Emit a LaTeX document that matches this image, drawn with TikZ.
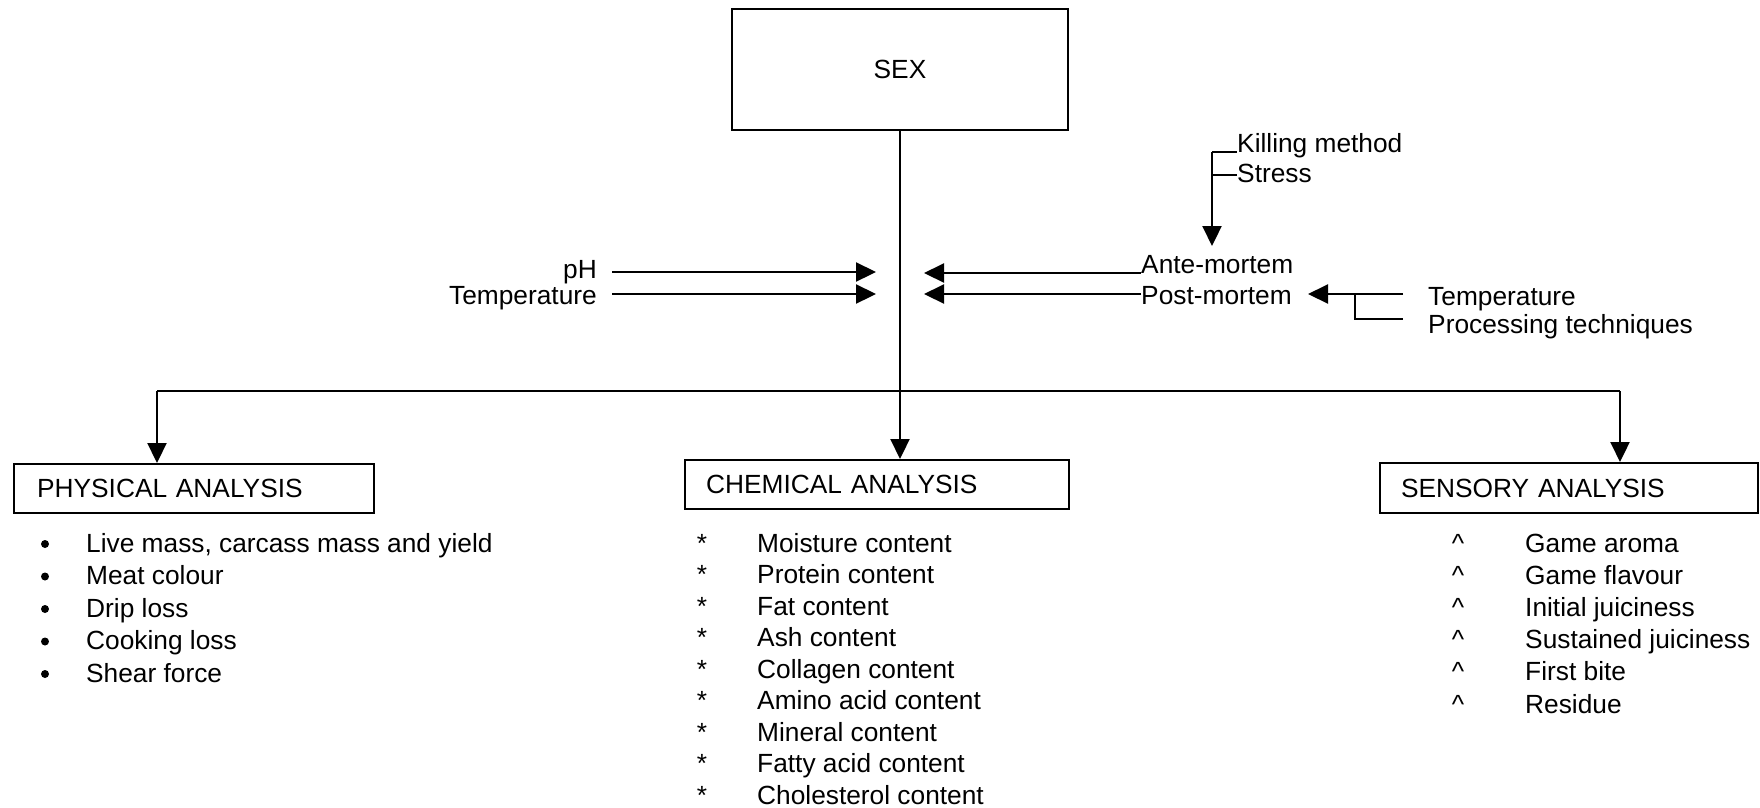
\documentclass[tikz,border=0pt]{standalone}
\usepackage{fontspec}
\setmainfont{Liberation Sans}
\usetikzlibrary{arrows.meta}
\newcommand\fsz{\fontsize{26.3}{31}\selectfont}
\begin{document}
\begin{tikzpicture}[x=1pt,y=-1pt,
  ln/.style={line width=2.2pt},
  arr/.style={line width=2.2pt,-{Triangle[length=20pt,width=19pt]}},
  lbl/.style={inner sep=0pt,font=\fsz},
  hbox/.style={draw,line width=2.2pt,anchor=north west,font=\fsz,inner ysep=0pt,align=left},
  dot/.style={fill,circle,inner sep=0pt,minimum size=8pt},
]
\useasboundingbox (0,0) rectangle (1760,807);

% top box
\node[draw,line width=2.2pt,minimum width=336pt,minimum height=121pt,font=\fsz] (sex) at (900,69.5) {SEX};

% headers
\node[hbox,inner xsep=23pt,text width=314pt,minimum height=49pt] (phys) at (13,463) {PHYSICAL ANALYSIS};
\node[hbox,inner xsep=21pt,text width=342pt,minimum height=49pt] (chem) at (684,459) {CHEMICAL ANALYSIS};
\node[hbox,inner xsep=21pt,text width=336pt,minimum height=50pt] (sens) at (1379,462) {SENSORY ANALYSIS};

% main connectors
\draw[arr] (sex.south) -- (sex.south |- chem.north);
\coordinate (hl) at (157,391);
\coordinate (hr) at (1620,391);
\draw[ln] (hl) -- (hr);
\draw[arr] (hl) -- (hl |- phys.north);
\draw[arr] (hr) -- (hr |- sens.north);

% left inputs
\node[lbl,anchor=base east] (ph) at (597,278) {pH};
\node[lbl,anchor=base east] (templ) at (597,304) {Temperature};
\coordinate (phtip) at (876,272);
\coordinate (tltip) at (876,294);
\draw[arr] ([xshift=15pt]ph.east |- phtip) -- (phtip);
\draw[arr] ([xshift=15pt]templ.east |- tltip) -- (tltip);

% right inputs
\node[lbl,anchor=base west] (ante) at (1141,273) {Ante-mortem};
\node[lbl,anchor=base west] (post) at (1141,304) {Post-mortem};
\coordinate (atip) at (924,273);
\coordinate (ptip) at (924,294);
\draw[arr] (ante.base west) -- (atip);
\draw[arr] (post.west |- ptip) -- (ptip);

% killing method / stress
\node[lbl,anchor=base west] (kill) at (1237,152) {Killing method};
\node[lbl,anchor=base west] (stress) at (1237,182) {Stress};
\coordinate (kb) at (1212,152);
\coordinate (ktip) at (1212,246);
\draw[ln] (kill.base west) -- (kb);
\draw[ln] ([yshift=7pt]stress.base west) -- (kb |- {0,175});
\draw[arr] (kb) -- (ktip);

% post-mortem factors
\node[lbl,anchor=base west] (tempr) at (1428,305) {Temperature};
\node[lbl,anchor=base west] (proc) at (1428,333) {Processing techniques};
\coordinate (tre) at (1403,294);
\coordinate (pre) at (1403,319);
\coordinate (pj) at (1355,294);
\coordinate (pmtip) at (1308,294);
\draw[arr] (tre) -- (pmtip);
\draw[ln] (pj) |- (pre);

% physical list
\foreach[count=\i] \t in {{Live mass, carcass mass and yield},{Meat colour},{Drip loss},{Cooking loss},{Shear force}}{
  \node[dot] (pb\i) at (45,{552+(\i-1)*32.5-8}) {};
  \node[lbl,anchor=base west] (p\i) at (86,{552+(\i-1)*32.5}) {\t};
}
% chemical list
\foreach[count=\i] \t in {{Moisture content},{Protein content},{Fat content},{Ash content},{Collagen content},{Amino acid content},{Mineral content},{Fatty acid content},{Cholesterol content}}{
  \node[lbl,anchor=base] (cb\i) at (702,{552+(\i-1)*31.5}) {*};
  \node[lbl,anchor=base west] (c\i) at (757,{552+(\i-1)*31.5}) {\t};
}
% sensory list
\foreach[count=\i] \t in {{Game aroma},{Game flavour},{Initial juiciness},{Sustained juiciness},{First bite},{Residue}}{
  \node[lbl,anchor=base] (sb\i) at (1458,{552+(\i-1)*32.2}) {\textasciicircum};
  \node[lbl,anchor=base west] (s\i) at (1525,{552+(\i-1)*32.2}) {\t};
}
\end{tikzpicture}
\end{document}
